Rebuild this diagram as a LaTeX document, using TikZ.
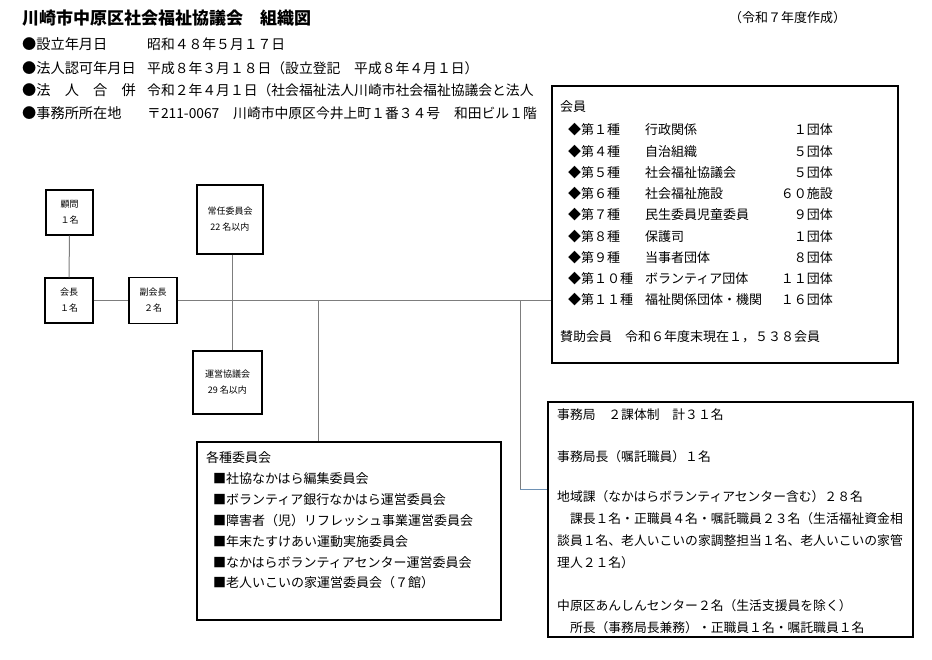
\documentclass[tikz,border=0pt]{standalone}
\usepackage{fontspec}
\setmainfont{Noto Sans CJK JP}
\usetikzlibrary{positioning}
\definecolor{linegray}{RGB}{125,125,125}
\definecolor{lineblue}{RGB}{110,145,180}
\tikzset{
  box/.style={draw=black, line width=1.2pt, fill=white, inner sep=0pt},
  smallbox/.style={box, align=center, font=\fontsize{9}{16}\selectfont},
  conn/.style={draw=linegray, line width=1pt},
  title/.style={anchor=west, inner sep=0pt, font=\fontsize{17}{17}\selectfont\bfseries},
  head/.style={anchor=west, inner sep=0pt, font=\fontsize{14.2}{14.2}\selectfont},
  headval/.style={anchor=west, inner sep=0pt, font=\fontsize{13.8}{13.8}\selectfont},
  note/.style={anchor=west, inner sep=0pt, font=\fontsize{13}{13}\selectfont},
  txt/.style={anchor=west, inner sep=0pt, font=\fontsize{13}{13}\selectfont},
  jtxt/.style={anchor=west, inner sep=0pt, font=\fontsize{12.8}{12.8}\selectfont},
}

\begin{document}
\begin{tikzpicture}[x=1pt, y=-1pt]
  \path[use as bounding box, fill=white] (0,0) rectangle (932,659);
  % title
  \node[title] (ttl) at (22,18) {川崎市中原区社会福祉協議会　組織図};
  \node[note] (nendo) at (729,18) {（令和７年度作成）};
  % header
  \node[head] (h1) at (22,44) {●設立年月日};
  \node[headval] (v1) at (147,44) {昭和４８年５月１７日};
  \node[head] (h2) at (22,68) {●法人認可年月日};
  \node[headval] (v2) at (147,68) {平成８年３月１８日（設立登記　平成８年４月１日）};
  \node[head] (h3) at (22,90) {●法　人　合　併};
  \node[headval] (v3) at (147,90) {令和２年４月１日（社会福祉法人川崎市社会福祉協議会と法人};
  \node[head] (h4) at (22,113) {●事務所所在地};
  \node[headval] (v4) at (147,113) {〒211-0067　川崎市中原区今井上町１番３４号　和田ビル１階};

  % small boxes
  \node[smallbox, minimum width=47, minimum height=45] (komon) at (69.5,212.5) {顧問\\１名};
  \node[smallbox, minimum width=48, minimum height=45] (kaicho) at (69,300.5) {会長\\１名};
  \node[smallbox, minimum width=48, minimum height=46] (fukukaicho) at (153,300.5) {副会長\\２名};
  \node[smallbox, minimum width=66, minimum height=69] (jonin) at (230,219.5) {常任委員会\\22 名以内};
  \node[smallbox, minimum width=69, minimum height=63] (unei) at (227.5,382.5) {運営協議会\\29 名以内};

  % big boxes
  \node[box, minimum width=346, minimum height=277] (kaiin) at (725,224.5) {};
  \node[box, minimum width=304, minimum height=178] (iinkai) at (349,531) {};
  \node[box, minimum width=365, minimum height=235] (jimu) at (730.5,519.5) {};

  % members
  \node[txt] (kaiinttl) at (560,107) {会員};
  \foreach \kind/\name/\num [count=\i from 0] in {第１種/行政関係/１団体, 第４種/自治組織/５団体,
      第５種/社会福祉協議会/５団体, 第６種/社会福祉施設/６０施設, 第７種/民生委員児童委員/９団体,
      第８種/保護司/１団体, 第９種/当事者団体/８団体, 第１０種/ボランティア団体/１１団体,
      第１１種/福祉関係団体・機関/１６団体} {
    \node[txt] (kind\i) at (568,130+21.25*\i) {◆\kind};
    \node[txt] (name\i) at (645,130+21.25*\i) {\name};
    \node[txt, anchor=east] (num\i) at (833,130+21.25*\i) {\num};
  }
  \node[txt] (sanjo) at (560,337) {賛助会員　令和６年度末現在１，５３８会員};

  % committees
  \node[txt] (iinkaittl) at (206,458) {各種委員会};
  \foreach \item [count=\i from 0] in {社協なかはら編集委員会, ボランティア銀行なかはら運営委員会,
      障害者（児）リフレッシュ事業運営委員会, 年末たすけあい運動実施委員会,
      なかはらボランティアセンター運営委員会, 老人いこいの家運営委員会（７館）} {
    \node[txt] (item\i) at (213,479+20.8*\i) {■\item};
  }

  % secretariat
  \foreach \yy/\line [count=\i] in {415/事務局　２課体制　計３１名, 457/事務局長（嘱託職員）１名,
      497/地域課（なかはらボランティアセンター含む）２８名,
      519/　課長１名・正職員４名・嘱託職員２３名（生活福祉資金相,
      541/談員１名、老人いこいの家調整担当１名、老人いこいの家管,
      563/理人２１名）, 606/中原区あんしんセンター２名（生活支援員を除く）,
      628/　所長（事務局長兼務）・正職員１名・嘱託職員１名} {
    \node[jtxt] (jline\i) at (557,\yy) {\line};
  }

  % lines
  \coordinate (b1) at (318,300);
  \coordinate (b2) at (520,300);
  \coordinate (b3) at (520,489);
  \draw[conn] (komon) -- (kaicho);
  \draw[conn] (kaicho) -- (fukukaicho);
  \draw[conn] (fukukaicho.east) -- (fukukaicho.east -| kaiin.west);
  \draw[conn] ([xshift=2pt]jonin.south) -- ([xshift=2pt]jonin.south |- unei.north);
  \draw[conn] (b1) -- (b1 |- iinkai.north);
  \draw[conn] (b2) -- (b3);
  \draw[conn, draw=lineblue] (b3) -- (b3 -| jimu.west);
\end{tikzpicture}
\end{document}
